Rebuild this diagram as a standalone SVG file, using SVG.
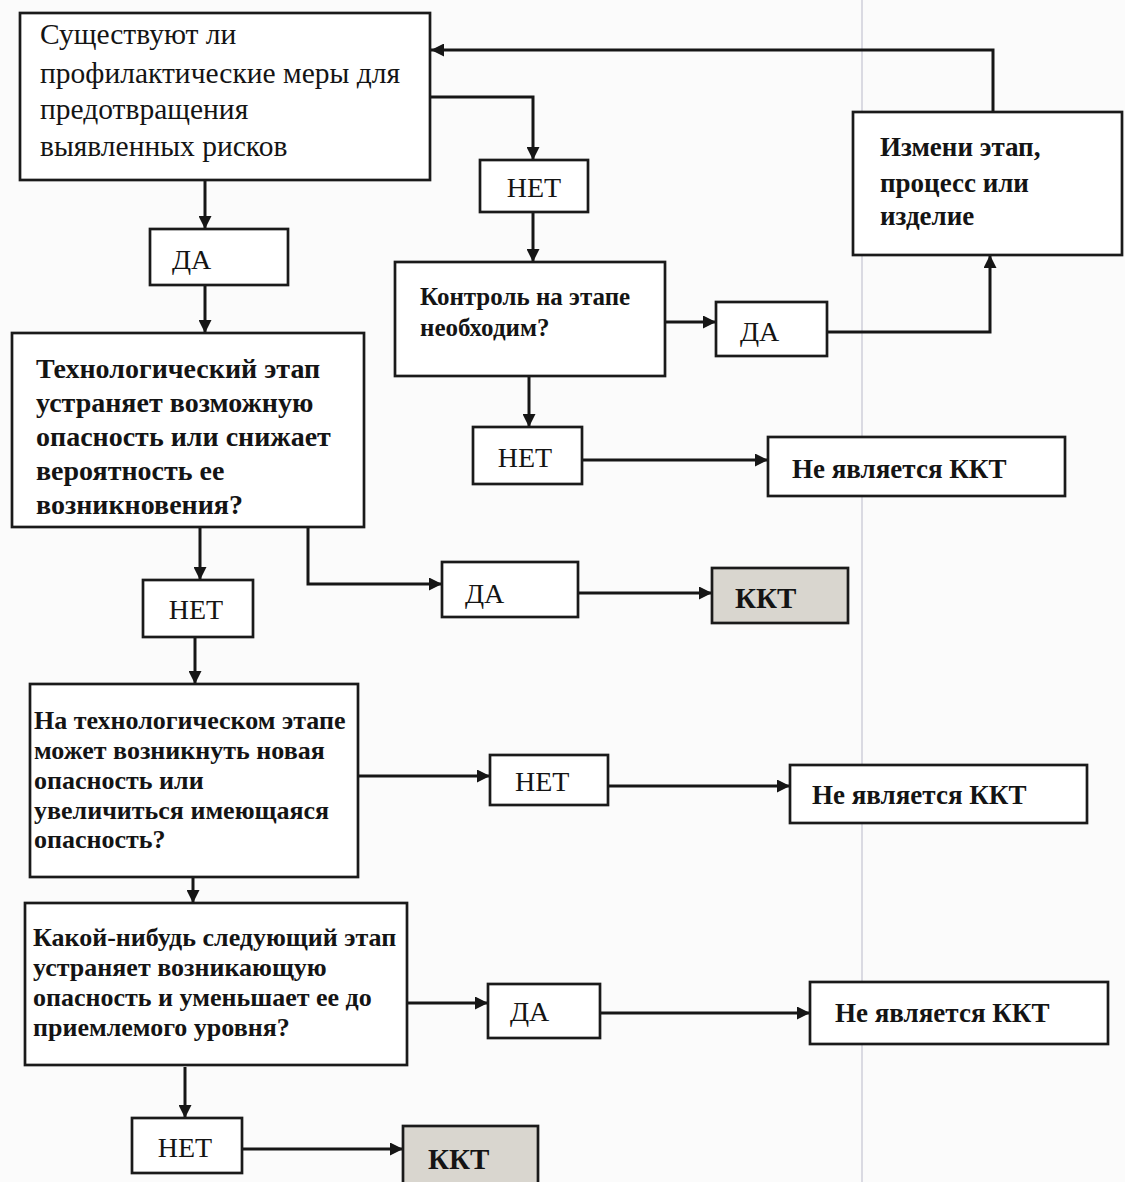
<svg xmlns="http://www.w3.org/2000/svg" width="1125" height="1182" viewBox="0 0 1125 1182">
  <defs>
    <marker id="arrow" viewBox="0 0 10 10" markerWidth="15" markerHeight="13" markerUnits="userSpaceOnUse" refX="10" refY="5" orient="auto">
      <path d="M0,0 L10,5 L0,10 z" fill="#161616"/>
    </marker>
    <style>
      .box { fill: #ffffff; stroke: #1a1a1a; stroke-width: 2.7; }
      .key { fill: #d9d6cf; stroke: #1a1a1a; stroke-width: 2.7; }
      .link { fill: none; stroke: #161616; stroke-width: 3; marker-end: url(#arrow); }
      text { fill: #141414; }
      .q1 { font-size: 29.5px; }
      .q { font-size: 28px; font-weight: bold; }
      .qs { font-size: 25px; font-weight: bold; }
      .ql { font-size: 26px; font-weight: bold; }
      .qm { font-size: 27px; font-weight: bold; }
      .lbl { font-size: 28px; }
      .res { font-size: 27px; font-weight: bold; }
      .kkt { font-size: 29px; font-weight: bold; }
    </style>
  </defs>

  <rect width="1125" height="1182" fill="#fbfbfb"/>
  <!-- faint page fold -->
  <line x1="862" y1="0" x2="862" y2="1182" stroke="#cfcfda" stroke-width="1.5"/>

  <g id="connectors">
    <!-- loop back from "Измени этап" to the first question -->
    <path class="link" d="M993,112 V50 H431"/>
    <path class="link" d="M430,97 H533 V160"/>
    <path class="link" d="M533,212 V262"/>
    <path class="link" d="M665,322 H716"/>
    <path class="link" d="M827,332 H990 V255"/>
    <path class="link" d="M529,376 V427"/>
    <path class="link" d="M582,460 H768"/>
    <path class="link" d="M205,180 V229"/>
    <path class="link" d="M205,285 V333"/>
    <path class="link" d="M200,527 V580"/>
    <path class="link" d="M308,527 V584 H442"/>
    <path class="link" d="M578,593 H712"/>
    <path class="link" d="M195,637 V684"/>
    <path class="link" d="M358,776 H490"/>
    <path class="link" d="M608,786 H790"/>
    <path class="link" d="M193,850 V903"/>
    <path class="link" d="M407,1003 H488"/>
    <path class="link" d="M600,1013 H810"/>
    <path class="link" d="M185,1067 V1118"/>
    <path class="link" d="M242,1149 H403"/>
  </g>

  <g id="q-prevention" font-family="'Liberation Serif', 'Times New Roman', serif">
    <rect class="box" x="20" y="13" width="410" height="167"/>
    <text class="q1" x="40" y="44">Существуют ли</text>
    <text class="q1" x="40" y="83">профилактические меры для</text>
    <text class="q1" x="40" y="119">предотвращения</text>
    <text class="q1" x="40" y="156">выявленных рисков</text>
  </g>

  <g id="no-1" font-family="'Liberation Serif', 'Times New Roman', serif">
    <rect class="box" x="480" y="160" width="108" height="52"/>
    <text class="lbl" x="534" y="197" text-anchor="middle">НЕТ</text>
  </g>

  <g id="q-control" font-family="'Liberation Serif', 'Times New Roman', serif">
    <rect class="box" x="395" y="262" width="270" height="114"/>
    <text class="qs" x="420" y="305">Контроль на этапе</text>
    <text class="qs" x="420" y="336">необходим?</text>
  </g>

  <g id="yes-control" font-family="'Liberation Serif', 'Times New Roman', serif">
    <rect class="box" x="716" y="302" width="111" height="54"/>
    <text class="lbl" x="740" y="341">ДА</text>
  </g>

  <g id="change-step" font-family="'Liberation Serif', 'Times New Roman', serif">
    <rect class="box" x="853" y="112" width="269" height="143"/>
    <text class="qm" x="880" y="156">Измени этап,</text>
    <text class="qm" x="880" y="192">процесс или</text>
    <text class="qm" x="880" y="225">изделие</text>
  </g>

  <g id="no-control" font-family="'Liberation Serif', 'Times New Roman', serif">
    <rect class="box" x="473" y="427" width="109" height="57"/>
    <text class="lbl" x="525" y="467" text-anchor="middle">НЕТ</text>
  </g>

  <g id="not-ccp-1" font-family="'Liberation Serif', 'Times New Roman', serif">
    <rect class="box" x="768" y="437" width="297" height="59"/>
    <text class="res" x="792" y="478">Не является ККТ</text>
  </g>

  <g id="yes-prevention" font-family="'Liberation Serif', 'Times New Roman', serif">
    <rect class="box" x="150" y="229" width="138" height="56"/>
    <text class="lbl" x="172" y="269">ДА</text>
  </g>

  <g id="q-eliminates" font-family="'Liberation Serif', 'Times New Roman', serif">
    <rect class="box" x="12" y="333" width="352" height="194"/>
    <text class="q" x="36" y="378">Технологический этап</text>
    <text class="q" x="36" y="412">устраняет возможную</text>
    <text class="q" x="36" y="446">опасность или снижает</text>
    <text class="q" x="36" y="480">вероятность ее</text>
    <text class="q" x="36" y="514">возникновения?</text>
  </g>

  <g id="no-eliminates" font-family="'Liberation Serif', 'Times New Roman', serif">
    <rect class="box" x="143" y="580" width="110" height="57"/>
    <text class="lbl" x="196" y="619" text-anchor="middle">НЕТ</text>
  </g>

  <g id="yes-eliminates" font-family="'Liberation Serif', 'Times New Roman', serif">
    <rect class="box" x="442" y="562" width="136" height="55"/>
    <text class="lbl" x="465" y="603">ДА</text>
  </g>

  <g id="ccp-1" font-family="'Liberation Serif', 'Times New Roman', serif">
    <rect class="key" x="712" y="568" width="136" height="55"/>
    <text class="kkt" x="735" y="608">ККТ</text>
  </g>

  <g id="q-new-hazard" font-family="'Liberation Serif', 'Times New Roman', serif">
    <rect class="box" x="30" y="684" width="328" height="193"/>
    <text class="ql" x="34" y="729">На технологическом этапе</text>
    <text class="ql" x="34" y="759">может возникнуть новая</text>
    <text class="ql" x="34" y="789">опасность или</text>
    <text class="ql" x="34" y="819">увеличиться имеющаяся</text>
    <text class="ql" x="34" y="848">опасность?</text>
  </g>

  <g id="no-new-hazard" font-family="'Liberation Serif', 'Times New Roman', serif">
    <rect class="box" x="490" y="755" width="118" height="50"/>
    <text class="lbl" x="515" y="791">НЕТ</text>
  </g>

  <g id="not-ccp-2" font-family="'Liberation Serif', 'Times New Roman', serif">
    <rect class="box" x="790" y="765" width="297" height="58"/>
    <text class="res" x="812" y="804">Не является ККТ</text>
  </g>

  <g id="q-next-step" font-family="'Liberation Serif', 'Times New Roman', serif">
    <rect class="box" x="25" y="903" width="382" height="162"/>
    <text class="ql" x="33" y="946">Какой-нибудь следующий этап</text>
    <text class="ql" x="33" y="976">устраняет возникающую</text>
    <text class="ql" x="33" y="1006">опасность и уменьшает ее до</text>
    <text class="ql" x="33" y="1036">приемлемого уровня?</text>
  </g>

  <g id="yes-next-step" font-family="'Liberation Serif', 'Times New Roman', serif">
    <rect class="box" x="488" y="984" width="112" height="54"/>
    <text class="lbl" x="510" y="1021">ДА</text>
  </g>

  <g id="not-ccp-3" font-family="'Liberation Serif', 'Times New Roman', serif">
    <rect class="box" x="810" y="982" width="298" height="62"/>
    <text class="res" x="835" y="1022">Не является ККТ</text>
  </g>

  <g id="no-next-step" font-family="'Liberation Serif', 'Times New Roman', serif">
    <rect class="box" x="132" y="1118" width="110" height="55"/>
    <text class="lbl" x="185" y="1157" text-anchor="middle">НЕТ</text>
  </g>

  <g id="ccp-2" font-family="'Liberation Serif', 'Times New Roman', serif">
    <rect class="key" x="403" y="1126" width="135" height="58"/>
    <text class="kkt" x="428" y="1169">ККТ</text>
  </g>
</svg>
